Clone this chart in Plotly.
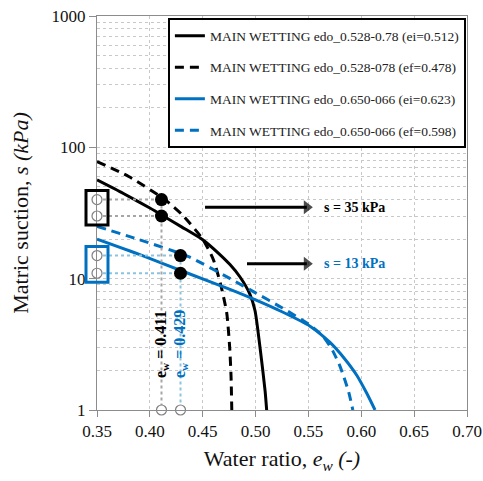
import math
import plotly.graph_objects as go

# ---- main wetting curves (water ratio e_w, matric suction s in kPa) ----
ew_528_ei = [0.35, 0.375, 0.40, 0.4143, 0.43, 0.45, 0.465, 0.4758, 0.4853, 0.4947, 0.4995, 0.5042, 0.509, 0.5105]
s_528_ei = [56.5, 44.5, 34.5, 29.5, 24.8, 19.8, 15.6, 12.8, 10.3, 7.6, 5.7, 3.0, 1.4, 1.0]

ew_528_ef = [0.35, 0.38, 0.4143, 0.43, 0.45, 0.46, 0.467, 0.4727, 0.4755, 0.4768, 0.4775]
s_528_ef = [78.0, 60.0, 40.0, 31.0, 20.0, 14.0, 9.0, 5.5, 3.0, 1.8, 1.0]

ew_650_ei = [0.35, 0.39, 0.436, 0.4758, 0.50, 0.525, 0.5515, 0.5704, 0.584, 0.5957, 0.6052, 0.613]
s_650_ei = [20.0, 15.3, 11.0, 8.3, 6.9, 5.6, 4.35, 3.27, 2.47, 1.84, 1.34, 1.0]

ew_650_ef = [0.35, 0.39, 0.436, 0.476, 0.50, 0.525, 0.552, 0.564, 0.573, 0.58, 0.588, 0.592]
s_650_ef = [25.0, 19.8, 14.8, 10.0, 7.8, 6.0, 4.4, 3.63, 2.82, 2.14, 1.38, 1.0]

legend_names = [
    "MAIN WETTING edo_0.528-0.78 (ei=0.512)",
    "MAIN WETTING edo_0.528-078 (ef=0.478)",
    "MAIN WETTING edo_0.650-066 (ei=0.623)",
    "MAIN WETTING edo_0.650-066 (ef=0.598)",
]

# ---- water ratio read at a given suction ----
ew_black = 0.411
ew_blue = 0.429
s_black = [40, 30]   # bounds around s = 35 kPa
s_blue = [15, 11]    # bounds around s = 13 kPa
s_black_label = 35
s_blue_label = 13

x_ticks = [0.35, 0.40, 0.45, 0.50, 0.55, 0.60, 0.65, 0.70]
y_ticks = [1, 10, 100, 1000]

BLACK = "#000000"
BLUE = "#0070C0"
GREY_DOT = "#a6a6a6"
BLUE_DOT = "#8cc4e0"
SERIF = "Liberation Serif"

X0, X1 = 0.35, 0.70
Y0, Y1 = 0.0, 3.0  # log10 range
PLOT_W, PLOT_H = 370, 394


def to_paper_x(v):
    return (v - X0) / (X1 - X0)


def to_paper_y(s):
    return (math.log10(s) - Y0) / (Y1 - Y0)


fig = go.Figure()

curves = [
    (ew_528_ei, s_528_ei, BLACK, "solid"),
    (ew_528_ef, s_528_ef, BLACK, "9px,6px"),
    (ew_650_ei, s_650_ei, BLUE, "solid"),
    (ew_650_ef, s_650_ef, BLUE, "9px,6px"),
]
for i, (xs, ys, col, dash) in enumerate(curves):
    fig.add_trace(go.Scatter(
        x=xs, y=ys, mode="lines", name=legend_names[i],
        legendgroup=f"g{i}",
        line=dict(color=col, width=3, dash=dash, shape="spline", smoothing=0.6),
        cliponaxis=False,
    ))

# dotted guide lines from the suction axis to the curves and down to the water-ratio axis
for ew, svals, col in [(ew_black, s_black, GREY_DOT), (ew_blue, s_blue, BLUE_DOT)]:
    for s in svals:
        fig.add_trace(go.Scatter(
            x=[X0, ew], y=[s, s], mode="lines", showlegend=False,
            line=dict(color=col, width=2, dash="dot"), hoverinfo="skip",
        ))
    fig.add_trace(go.Scatter(
        x=[ew, ew], y=[svals[0], 1], mode="lines", showlegend=False,
        line=dict(color=col, width=2, dash="dot"), hoverinfo="skip",
    ))

# hollow markers on the axes
hollow_x = [X0, X0, X0, X0, ew_black, ew_blue]
hollow_y = s_black + s_blue + [1, 1]
fig.add_trace(go.Scatter(
    x=hollow_x, y=hollow_y, mode="markers", showlegend=False, cliponaxis=False,
    marker=dict(size=10, color="white", line=dict(color="#7f7f7f", width=1.2)),
))

# filled markers on the curves
fig.add_trace(go.Scatter(
    x=[ew_black, ew_black, ew_blue, ew_blue], y=s_black + s_blue,
    mode="markers", showlegend=False, cliponaxis=False,
    marker=dict(size=13, color=BLACK),
))

# boxes around the suction bounds
box_half_w = 11 / PLOT_W
pad = 9 / PLOT_H
for svals, col in [(s_black, BLACK), (s_blue, BLUE)]:
    fig.add_shape(
        type="rect", xref="paper", yref="paper",
        x0=to_paper_x(X0) - box_half_w, x1=to_paper_x(X0) + box_half_w,
        y0=to_paper_y(min(svals)) - pad, y1=to_paper_y(max(svals)) + pad,
        line=dict(color=col, width=3), fillcolor="rgba(0,0,0,0)",
    )

# arrows pointing to the suction labels
arrow_end = 0.5485
for s_lab, x_start, col in [(s_black_label, 0.4522, BLACK), (s_blue_label, 0.4919, BLUE)]:
    fig.add_trace(go.Scatter(
        x=[x_start, arrow_end], y=[s_lab, s_lab], mode="lines+markers",
        showlegend=False, hoverinfo="skip",
        line=dict(color=BLACK, width=3),
        marker=dict(symbol="triangle-right", size=[0, 12], color=BLACK,
                    line=dict(width=0)),
    ))
    fig.add_annotation(
        x=0.5629, y=math.log10(s_lab), xref="x", yref="y",
        text=f"<b>s = {s_lab} kPa</b>", showarrow=False, xanchor="left",
        font=dict(family=SERIF, size=14, color=col),
    )

# rotated water-ratio labels
for ew, col in [(ew_black, BLACK), (ew_blue, BLUE)]:
    fig.add_annotation(
        x=ew, y=math.log10(3.15), xref="x", yref="y",
        text=f"<b>e<sub>w</sub> = {ew:.3f}</b>", showarrow=False, textangle=-90,
        font=dict(family=SERIF, size=16, color=col),
    )

fig.update_layout(
    width=483, height=481,
    margin=dict(l=97, r=16, t=16, b=71, autoexpand=False),
    paper_bgcolor="white", plot_bgcolor="white",
    font=dict(family=SERIF, color="#000000"),
    showlegend=True,
    legend=dict(
        x=0.997, y=0.994, xanchor="right", yanchor="top",
        bgcolor="white", bordercolor=BLACK, borderwidth=2,
        font=dict(family=SERIF, size=13.5, color="#222222"),
        tracegroupgap=11, itemwidth=30,
    ),
    xaxis=dict(
        range=[X0, X1], tickvals=x_ticks, ticktext=[f"{v:.2f}" for v in x_ticks],
        showgrid=True, gridcolor="#c8c8c8", griddash="dot", gridwidth=1,
        showline=True, linecolor="#8c8c8c", linewidth=1, mirror=True,
        ticks="outside", ticklen=6, tickcolor="#8c8c8c",
        tickfont=dict(family=SERIF, size=17, color="#111111"),
        zeroline=False, automargin=False,
        title=dict(text="Water ratio, <i>e<sub>w</sub> (-)</i>",
                   font=dict(family=SERIF, size=22, color="#111111"), standoff=10),
    ),
    yaxis=dict(
        type="log", range=[Y0, Y1], tickvals=y_ticks, ticktext=[str(v) for v in y_ticks],
        showgrid=True, gridcolor="#c8c8c8", griddash="dot", gridwidth=1,
        minor=dict(dtick="D1", showgrid=True, gridcolor="#c8c8c8", griddash="dot", ticklen=0),
        showline=True, linecolor="#8c8c8c", linewidth=1, mirror=True,
        ticks="outside", ticklen=7, tickcolor="#8c8c8c",
        tickfont=dict(family=SERIF, size=17, color="#111111"),
        zeroline=False, automargin=False,
        title=dict(text="Matric suction, <i>s (kPa)</i>",
                   font=dict(family=SERIF, size=22, color="#111111"), standoff=16),
    ),
)

fig.write_html("out.html")
